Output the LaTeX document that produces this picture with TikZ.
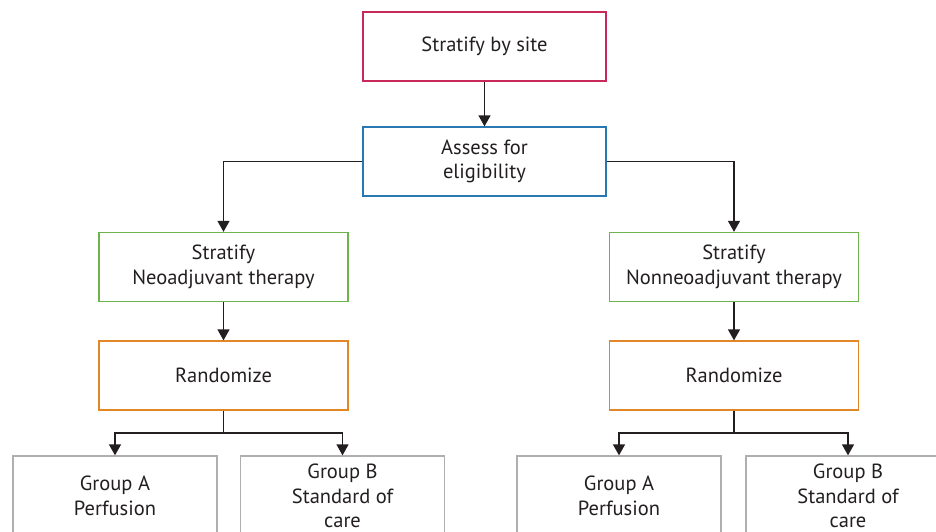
\documentclass[tikz,border=0pt]{standalone}
\usepackage{fontspec}
\setmainfont{PT Sans}
\usetikzlibrary{arrows.meta}
\definecolor{sitecol}{RGB}{200,40,90}
\definecolor{elicol}{RGB}{40,120,180}
\definecolor{stratcol}{RGB}{110,180,75}
\definecolor{randcol}{RGB}{225,135,40}
\definecolor{grpcol}{RGB}{175,175,175}
\definecolor{inkcol}{RGB}{35,31,32}
\begin{document}
\begin{tikzpicture}
  [x=1pt,y=-1pt
  ,box/.style={rectangle,draw,line width=1.3pt,minimum width=249pt,minimum height=69pt,inner sep=0pt,align=center,text=inkcol,font=\fontsize{20.5}{24.5}\selectfont}
  ,grp/.style={box,draw=grpcol,minimum width=204pt,minimum height=80pt}
  ,link/.style={-{Triangle[width=12pt,length=11pt]},line width=1.3pt,draw=inkcol}]
\useasboundingbox (0,0) rectangle (936,531);
\clip (0,0) rectangle (936,531);
\node at (484.5,46.5) (site) [box,draw=sitecol,minimum width=243pt] {Stratify by site};
\node at (484.5,161.5) (elig) [box,draw=elicol,minimum width=243pt] {Assess for\\eligibility};
\node at (223.5,267) (neo) [box,draw=stratcol] {Stratify\\Neoadjuvant therapy};
\node at (734,267) (nonneo) [box,draw=stratcol] {Stratify\\Nonneoadjuvant therapy};
\node at (223.5,375.5) (randL) [box,draw=randcol] {Randomize};
\node at (734,375.5) (randR) [box,draw=randcol] {Randomize};
\node at (115,496) (grpAL) [grp] {Group A\\Perfusion};
\node at (342.5,496) (grpBL) [grp] {Group B\\Standard of\\care};
\node at (619,496) (grpAR) [grp] {Group A\\Perfusion};
\node at (848,496) (grpBR) [grp] {Group B\\Standard of\\care};
\coordinate (splitL) at (223.5,433);
\coordinate (splitR) at (734,433);
%
\draw [link] (site) -- (elig);
\draw [link] (elig.west) -| (neo.north);
\draw [link] (elig.east) -| (nonneo.north);
\draw [link] (neo) -- (randL);
\draw [link] (nonneo) -- (randR);
\draw [line width=1.3pt,draw=inkcol] (randL.south) -- (splitL);
\draw [line width=1.3pt,draw=inkcol] (randR.south) -- (splitR);
\draw [link] (splitL) -| (grpAL.north);
\draw [link] (splitL) -| (grpBL.north);
\draw [link] (splitR) -| (grpAR.north);
\draw [link] (splitR) -| (grpBR.north);
\end{tikzpicture}
\end{document}
